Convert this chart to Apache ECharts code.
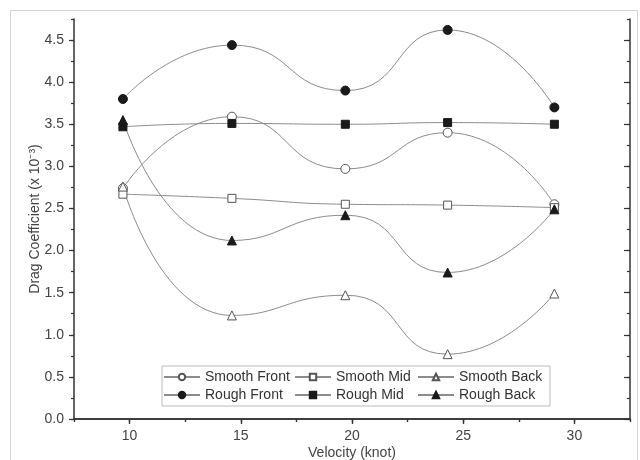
<!DOCTYPE html>
<html>
<head>
<meta charset="utf-8">
<script src="https://cdn.jsdelivr.net/npm/echarts@6/dist/echarts.min.js"></script>
<style>html,body{margin:0;padding:0;background:#fff}#c{width:640px;height:460px}</style>
</head>
<body>
<div id="c"></div>
<script>
const velocity = [9.7, 14.6, 19.7, 24.3, 29.1];
const smoothFront = [2.74, 3.59, 2.97, 3.40, 2.55];
const smoothMid = [2.67, 2.62, 2.55, 2.54, 2.51];
const smoothBack = [2.76, 1.23, 1.47, 0.77, 1.49];
const roughFront = [3.80, 4.44, 3.90, 4.62, 3.70];
const roughMid = [3.47, 3.51, 3.50, 3.52, 3.50];
const roughBack = [3.55, 2.12, 2.42, 1.74, 2.49];
const xTicks = [10, 15, 20, 25, 30];
const yTicks = [0, 0.5, 1, 1.5, 2, 2.5, 3, 3.5, 4, 4.5];

const FONT = 'Liberation Sans, Arial, sans-serif';
const AX = '#333';
const LINE = '#8c8c8c';

function pts(ys) { return velocity.map((x, i) => [x, ys[i]]); }

const seriesDefs = [
  { name: 'Smooth Front', data: smoothFront, symbol: 'circle', size: 9, fill: '#fff', border: '#555' },
  { name: 'Smooth Mid', data: smoothMid, symbol: 'rect', size: 8, fill: '#fff', border: '#555' },
  { name: 'Smooth Back', data: smoothBack, symbol: 'triangle', size: 9, fill: '#fff', border: '#555' },
  { name: 'Rough Front', data: roughFront, symbol: 'circle', size: 9, fill: '#1a1a1a', border: '#1a1a1a' },
  { name: 'Rough Mid', data: roughMid, symbol: 'rect', size: 8, fill: '#1a1a1a', border: '#1a1a1a' },
  { name: 'Rough Back', data: roughBack, symbol: 'triangle', size: 9, fill: '#1a1a1a', border: '#1a1a1a' }
];

const axLine = { show: true, lineStyle: { color: AX, width: 1.5 } };

function xAx(extra) {
  return Object.assign({
    type: 'value', min: 7.5, max: 32.5, interval: 2.5,
    splitLine: { show: false }, axisLine: axLine
  }, extra);
}
function yAx(extra) {
  return Object.assign({
    type: 'value', min: 0, max: 4.75, interval: 0.25,
    splitLine: { show: false }, axisLine: axLine
  }, extra);
}

const option = {
  animation: false,
  backgroundColor: '#fff',
  graphic: [{
    type: 'rect', z: -10, silent: true,
    shape: { x: 10.5, y: 10.5, width: 627, height: 470 },
    style: { fill: 'none', stroke: '#d4d4d4', lineWidth: 1 }
  }],
  grid: { left: 74, right: 10, top: 19, bottom: 41, containLabel: false, outerBoundsMode: 'none' },
  xAxis: [
    xAx({
      position: 'bottom',
      name: 'Velocity (knot)', nameLocation: 'middle', nameGap: 27, nameMoveOverlap: false,
      nameTextStyle: { fontFamily: FONT, fontSize: 14, color: '#444', verticalAlign: 'top' },
      axisTick: { show: true, length: 3, lineStyle: { color: AX, width: 1.2 } },
      axisLabel: { customValues: xTicks, fontFamily: FONT, fontSize: 14, color: '#444', margin: 10 }
    }),
    xAx({
      position: 'bottom', axisLine: { show: false },
      axisTick: { show: true, customValues: xTicks, length: 5, lineStyle: { color: AX, width: 1.2 } },
      axisLabel: { show: false }
    }),
    xAx({
      position: 'top',
      axisTick: { show: true, inside: true, length: 3, lineStyle: { color: AX, width: 1.2 } },
      axisLabel: { show: false }
    }),
    xAx({
      position: 'top', axisLine: { show: false },
      axisTick: { show: true, inside: true, customValues: xTicks, length: 5, lineStyle: { color: AX, width: 1.2 } },
      axisLabel: { show: false }
    })
  ],
  yAxis: [
    yAx({
      position: 'left',
      name: 'Drag Coefficient (x 10\u207B\u00B3)', nameLocation: 'middle', nameGap: 32, nameMoveOverlap: false,
      nameTextStyle: { fontFamily: FONT, fontSize: 14, color: '#444' },
      axisTick: { show: true, length: 3, lineStyle: { color: AX, width: 1.2 } },
      axisLabel: { customValues: yTicks, formatter: v => v.toFixed(1), fontFamily: FONT, fontSize: 14, color: '#444', margin: 10 }
    }),
    yAx({
      position: 'left', axisLine: { show: false },
      axisTick: { show: true, customValues: yTicks, length: 5, lineStyle: { color: AX, width: 1.2 } },
      axisLabel: { show: false }
    }),
    yAx({
      position: 'right',
      axisTick: { show: true, inside: true, length: 3, lineStyle: { color: AX, width: 1.2 } },
      axisLabel: { show: false }
    }),
    yAx({
      position: 'right', axisLine: { show: false },
      axisTick: { show: true, inside: true, customValues: yTicks, length: 6, lineStyle: { color: AX, width: 1.2 } },
      axisLabel: { show: false }
    })
  ],
  legend: {
    left: 162, top: 366,
    width: 390,
    orient: 'horizontal',
    padding: [4, 3, 4, 1],
    itemGap: 4,
    itemWidth: 36, itemHeight: 8,
    borderColor: '#bbb', borderWidth: 1, backgroundColor: '#fff',
    textStyle: { fontFamily: FONT, fontSize: 14, color: '#333', lineHeight: 14 },
    data: [
      { name: 'Smooth Front', textStyle: { width: 85 } },
      { name: 'Smooth Mid', textStyle: { width: 77 } },
      { name: 'Smooth Back', textStyle: { width: 88 } },
      { name: 'Rough Front', textStyle: { width: 85 } },
      { name: 'Rough Mid', textStyle: { width: 77 } },
      { name: 'Rough Back', textStyle: { width: 88 } }
    ]
  },
  series: seriesDefs.map(s => ({
    type: 'line',
    name: s.name,
    xAxisIndex: 0, yAxisIndex: 0,
    data: pts(s.data),
    smooth: 0.55,
    symbol: s.symbol,
    symbolSize: s.size,
    showSymbol: true,
    lineStyle: { color: LINE, width: 1 },
    itemStyle: { color: s.fill, borderColor: s.border, borderWidth: 1 },
    emphasis: { disabled: true }
  }))
};

const chart = echarts.init(document.getElementById('c'), null, { renderer: 'canvas' });
chart.setOption(option);
</script>
</body>
</html>
